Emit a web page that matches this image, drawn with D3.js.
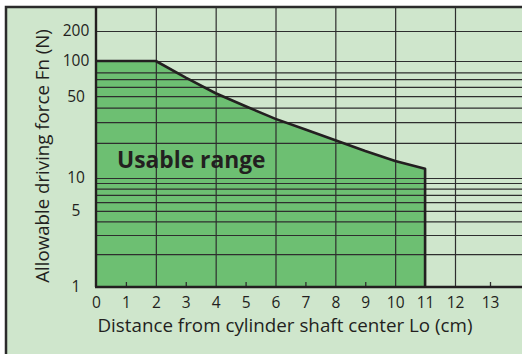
<!DOCTYPE html>
<html>
<head>
<meta charset="utf-8">
<script src="https://cdn.jsdelivr.net/npm/d3@7"></script>
<style>
  body { margin: 0; background: #fff; }
  text { font-family: "Open Sans", sans-serif; fill: #231f20; }
</style>
</head>
<body>
<svg id="chart" width="522" height="354"></svg>
<script>
// ---- data ----
const xLabels = [0, 1, 2, 3, 4, 5, 6, 7, 8, 9, 10, 11, 12, 13];
const xGridValues = [2, 4, 6, 8, 10, 12];
const xMinorTicks = [1, 3, 5, 7, 9, 13];
const yLabels = [1, 5, 10, 50, 100, 200];
const yGridValues = [2, 3, 4, 5, 6, 7, 8, 9, 10, 20, 30, 40, 50, 60, 70, 80, 100, 200];
const distance = [0, 2, 3, 4, 5, 6, 7, 8, 9, 10, 11];
const force = [100, 100, 72, 53, 41, 32, 26, 21, 17, 14, 12];

const svg = d3.select("#chart");
const width = +svg.attr("width");
const height = +svg.attr("height");

const lightBg = "#cfe6cc";
const fillGreen = "#6dbf72";
const ink = "#231f20";

const plotLeft = 96, plotTop = 7, plotBottom = 287;

// the printed chart is not quite regular, so the scales are piecewise
const x = d3.scaleLinear().domain([0, 12, 13]).range([plotLeft, 455, 490]);
const y = d3.scaleLog().domain([1, 10, 100, 200]).range([plotBottom, 178, 61, 31]);

// background panel with frame
svg.append("rect")
  .attr("x", 6).attr("y", plotTop)
  .attr("width", width + 10).attr("height", height + 10)
  .attr("fill", lightBg)
  .attr("stroke", "#2b2b2b")
  .attr("stroke-width", 2.5);

// usable range area
const pts = distance.map((d, i) => [d, force[i]]);
const area = d3.area()
  .x((d) => x(d[0]))
  .y0(y(1))
  .y1((d) => y(d[1]));

svg.append("path")
  .datum(pts)
  .attr("fill", fillGreen)
  .attr("d", area);

// horizontal grid
svg.append("g")
  .attr("transform", `translate(${plotLeft},0)`)
  .call(d3.axisLeft(y).tickValues(yGridValues).tickSize(-(width - plotLeft)).tickFormat(""))
  .call((g) => g.select(".domain").remove())
  .call((g) => g.selectAll("line").attr("stroke", "#2e2e2e").attr("stroke-width", 1.2));

// vertical grid
svg.append("g")
  .attr("transform", `translate(0,${plotBottom})`)
  .call(d3.axisBottom(x).tickValues(xGridValues).tickSize(-(plotBottom - plotTop)).tickFormat(""))
  .call((g) => g.select(".domain").remove())
  .call((g) => g.selectAll("line").attr("stroke", "#2e2e2e").attr("stroke-width", 1.2));

// minor tick marks on the bottom axis
svg.append("g")
  .attr("transform", `translate(0,${plotBottom})`)
  .call(d3.axisBottom(x).tickValues(xMinorTicks).tickSize(-5).tickFormat(""))
  .call((g) => g.select(".domain").remove())
  .call((g) => g.selectAll("line").attr("stroke", "#2e2e2e").attr("stroke-width", 1.3));

// outline of the usable range
const outline = pts.slice(1).concat([[distance[distance.length - 1], 1]]);
svg.append("path")
  .datum([[0, force[0]]].concat(outline))
  .attr("fill", "none")
  .attr("stroke", ink)
  .attr("stroke-width", 2.6)
  .attr("stroke-linejoin", "round")
  .attr("d", d3.line().x((d) => x(d[0])).y((d) => y(d[1])));

// axes lines
svg.append("line")
  .attr("x1", plotLeft).attr("x2", plotLeft)
  .attr("y1", plotTop).attr("y2", plotBottom)
  .attr("stroke", ink).attr("stroke-width", 2.4);
svg.append("line")
  .attr("x1", plotLeft - 1).attr("x2", width)
  .attr("y1", plotBottom).attr("y2", plotBottom)
  .attr("stroke", ink).attr("stroke-width", 2.6);

// x labels
svg.append("g")
  .attr("transform", `translate(0,${plotBottom})`)
  .call(d3.axisBottom(x).tickValues(xLabels).tickSize(0).tickPadding(10))
  .call((g) => g.select(".domain").remove())
  .call((g) => g.selectAll("text").attr("font-size", 15.5).attr("font-family", null).style("fill", ink));

// y labels (centred in the margin)
svg.append("g")
  .attr("transform", `translate(${plotLeft},0)`)
  .call(d3.axisLeft(y).tickValues(yLabels).tickSize(0).tickFormat(d3.format("d")))
  .call((g) => g.select(".domain").remove())
  .call((g) => g.selectAll("text")
    .attr("text-anchor", "middle")
    .attr("x", -20)
    .attr("font-size", 15.5)
    .attr("font-family", null)
    .style("fill", ink));

// titles
svg.append("text")
  .attr("x", 285).attr("y", 332)
  .attr("text-anchor", "middle")
  .attr("font-size", 18.8)
  .text("Distance from cylinder shaft center Lo (cm)");

svg.append("text")
  .attr("transform", `translate(49,156) rotate(-90)`)
  .attr("text-anchor", "middle")
  .attr("font-size", 18.7)
  .text("Allowable driving force Fn (N)");

svg.append("text")
  .attr("x", 117).attr("y", 168)
  .attr("font-size", 22.8)
  .attr("font-weight", "bold")
  .text("Usable range");
</script>
</body>
</html>
